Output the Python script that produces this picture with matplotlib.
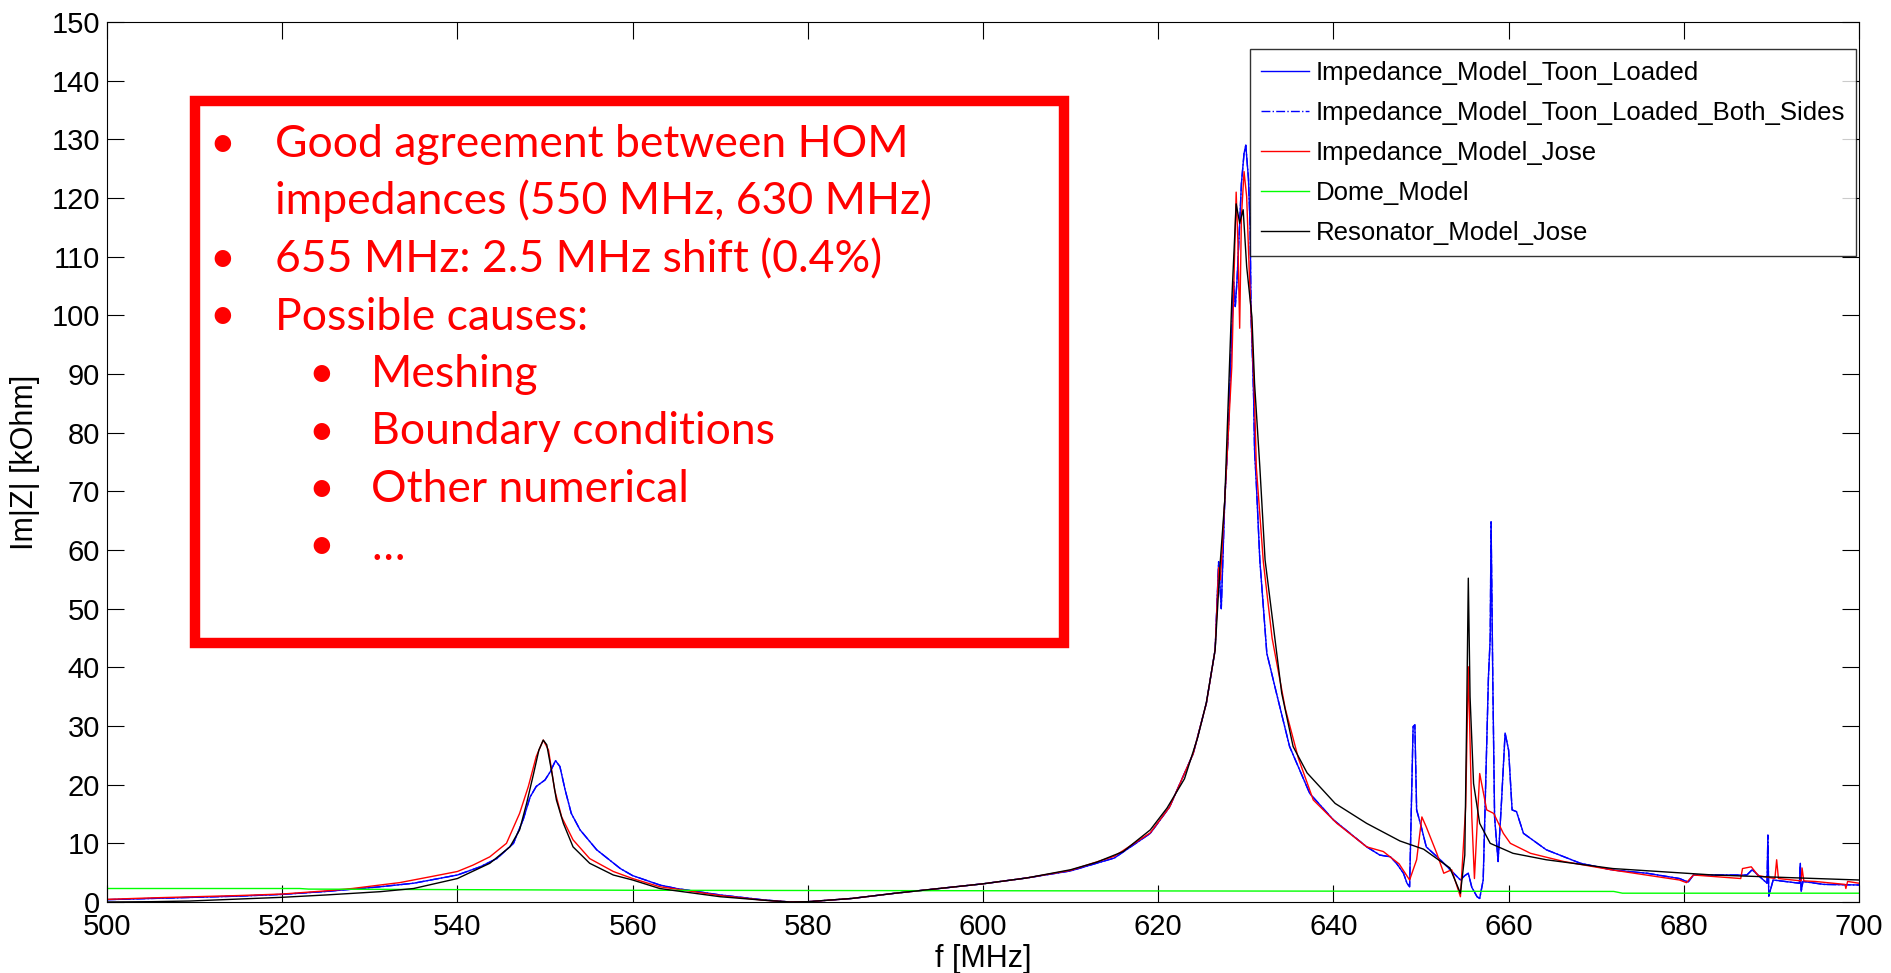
import matplotlib
matplotlib.use("Agg")
import matplotlib.pyplot as plt
from matplotlib.patches import Rectangle

plt.rcParams["font.family"] = ["Liberation Sans", "DejaVu Sans"]

# Impedance_Model_Toon_Loaded (blue)
toon_f = [500, 505, 510, 515, 520, 525, 531.2, 535, 540, 542.6, 544.5, 546.4, 547.5, 548.3,
          549.0, 550.0, 550.6, 551.2, 551.7, 552.3, 553.0, 554.0, 555.9, 558.6, 560, 563.1,
          565, 570, 575, 578, 580, 585, 590, 595, 600, 605, 610, 615, 619.1, 621.3, 624.0,
          625.5, 626.5, 626.9, 627.2, 627.6, 628.0, 628.4, 628.6, 628.8, 629.0, 629.3, 629.5,
          629.8, 630.0, 630.3, 630.5, 630.6, 630.8, 630.9, 631.0, 631.2, 631.6, 632.4, 633.5,
          635.0, 637.3, 640.0, 643.8, 645.3, 646.5, 647.2, 648.0, 648.4, 648.7, 649.1, 649.3,
          649.5, 650.0, 650.6, 652.2, 652.6, 654.5, 655.0, 655.4, 655.8, 656.4, 656.7, 657.1,
          657.7, 657.9, 658.0, 658.2, 658.4, 658.8, 659.2, 659.6, 660.0, 660.4, 660.9, 661.7,
          664.3, 668.2, 671.9, 675.8, 679.5, 680.5, 681.1, 687.2, 687.8, 689.5, 689.6, 689.7,
          690.2, 693.2, 693.3, 693.4, 693.6, 696, 700]
toon_z = [0.4, 0.6, 0.8, 1.0, 1.3, 1.8, 2.6, 3.2, 4.6, 6.0, 7.4, 10.0, 14.0, 17.9,
          19.7, 20.8, 22.2, 24.1, 23.1, 19.1, 15.1, 12.3, 8.9, 5.7, 4.5, 2.9,
          2.3, 1.2, 0.35, 0.0, 0.05, 0.6, 1.5, 2.3, 3.1, 4.1, 5.3, 7.5, 11.7, 16.2, 25.3,
          33.9, 43.0, 58.0, 50.0, 68.5, 79.9, 96.9, 105.7, 101.5, 106.0, 115.7, 122.5,
          127.6, 129.0, 123.3, 115.0, 99.8, 91.2, 85.6, 77.0, 71.4, 58.3, 42.4, 35.6,
          26.5, 18.5, 14.0, 9.4, 8.0, 7.7, 6.6, 4.9, 3.2, 2.6, 29.9, 30.2,
          15.7, 13.0, 9.4, 7.2, 6.6, 3.75, 4.5, 4.9, 2.5, 0.9, 0.6, 3.75,
          38.4, 45.0, 64.8, 37.3, 14.5, 6.9, 17.4, 28.8, 25.9, 15.7, 15.4, 11.7,
          8.9, 6.6, 5.45, 4.9, 4.0, 3.4, 4.6, 4.6, 5.5, 3.2, 11.4, 1.0,
          3.75, 3.2, 6.6, 1.8, 3.5, 3.0, 2.9]

# Impedance_Model_Toon_Loaded_Both_Sides (blue dash-dot) - lies on top of the blue curve
both_f = toon_f
both_z = toon_z

# Impedance_Model_Jose (red)
jose_f = [500, 505, 510, 515, 520, 525, 528, 531.2, 533.4, 536.9, 540, 541.8, 543.7, 545.6,
          547.1, 548.1, 549.0, 549.8, 550.4, 551.1, 551.9, 553.2, 555.1, 557.8, 560, 563.1,
          565, 570, 575, 578, 580, 585, 590, 595, 600, 605, 610, 615, 619.1, 621.3, 624.0,
          625.5, 626.5, 626.9, 627.1, 627.6, 628.4, 628.9, 629.1, 629.3, 629.5, 629.8, 630.1,
          630.4, 630.7, 631.0, 631.2, 632.0, 633.0, 634.5, 636.0, 637.7, 640.4, 643.8, 645.7,
          647.5, 648.7, 649.5, 650.1, 650.6, 651.8, 652.6, 653.5, 654.5, 655.1, 655.4, 655.8,
          656.1, 656.7, 657.5, 658.3, 659.4, 660.2, 662.5, 666.3, 671.9, 679.5, 680.3, 681.1,
          686.5, 686.7, 687.7, 688.5, 690.4, 690.6, 690.8, 693.4, 693.5, 693.7, 695, 698.4,
          698.5, 698.7, 700]
jose_z = [0.45, 0.7, 0.9, 1.1, 1.36, 1.9, 2.3, 2.9, 3.3, 4.3, 5.2, 6.3, 7.7, 10.0,
          15.1, 19.7, 24.8, 27.6, 25.9, 19.1, 14.5, 10.6, 7.4, 5.2, 4.0, 2.6,
          2.2, 1.1, 0.3, 0.0, 0.05, 0.6, 1.5, 2.3, 3.1, 4.1, 5.4, 7.8, 11.8, 16.2, 25.3,
          33.9, 43.0, 57.0, 54.9, 68.5, 91.2, 121.0, 112.4, 97.8, 116.8, 124.5, 120.2,
          107.2, 96.9, 85.6, 74.2, 58.0, 45.0, 33.0, 24.5, 17.4, 13.4, 9.4, 8.6,
          6.5, 3.75, 7.2, 14.5, 12.8, 8.3, 4.9, 5.5, 0.9, 16.2, 40.1, 14.5,
          4.0, 21.9, 15.7, 15.1, 11.7, 10.0, 8.3, 6.9, 5.45, 3.75, 3.3, 4.6,
          4.0, 5.7, 6.0, 4.5, 4.0, 7.2, 4.0, 3.6, 5.8, 3.6, 3.5, 3.0,
          2.3, 3.5, 3.2]

# Dome_Model (green)
dome_f = [500, 522, 523, 560, 610, 672, 673, 700]
dome_z = [2.3, 2.3, 2.2, 2.0, 1.9, 1.8, 1.5, 1.5]

# Resonator_Model_Jose (black)
res_f = [500, 505, 509.5, 515, 520, 525, 531.2, 535, 540, 543.7, 546.0, 547.1, 547.9, 548.7,
         549.3, 549.8, 550.2, 550.8, 551.3, 552.1, 553.2, 555.1, 557.8, 560, 563.1, 565, 570,
         575, 578, 580, 585, 590, 595, 600, 605, 610, 613, 616, 619.1, 621, 623, 624.5,
         625.5, 626.5, 627.1, 627.6, 628.0, 628.4, 628.9, 629.3, 629.7, 630.1, 630.7, 631.0,
         631.6, 632.2, 634.1, 635.4, 637.0, 640.2, 643.8, 647.6, 650.3, 653.3, 654.5, 655.0,
         655.2, 655.4, 655.6, 656.0, 656.7, 657.9, 660.5, 664.3, 671.9, 683.4, 700]
res_z = [0.0, 0.05, 0.17, 0.5, 0.8, 1.2, 1.76, 2.3, 4.0, 6.6, 9.4, 12.3, 16.8, 21.9,
         25.9, 27.6, 26.8, 21.9, 17.4, 13.4, 9.4, 6.6, 4.6, 3.75, 2.3, 1.9, 0.9,
         0.3, 0.0, 0.05, 0.6, 1.5, 2.3, 3.1, 4.1, 5.5, 6.8, 8.6, 12.3, 16.0, 21.0, 28.0,
         34.0, 43.0, 58.3, 68.5, 85.6, 102.6, 119.0, 115.7, 118.0, 108.3, 99.7, 88.4,
         74.2, 58.3, 35.6, 26.5, 22.0, 16.8, 13.4, 10.4, 9.0, 5.8, 1.5, 8.0,
         30.0, 55.2, 35.0, 20.2, 13.4, 10.0, 8.3, 7.2, 5.7, 4.6, 3.75]

x_ticks = list(range(500, 701, 20))
y_ticks = list(range(0, 151, 10))

notes = [
    (0, "Good agreement between HOM"),
    (None, "impedances (550 MHz, 630 MHz)"),
    (0, "655 MHz: 2.5 MHz shift (0.4%)"),
    (0, "Possible causes:"),
    (1, "Meshing"),
    (1, "Boundary conditions"),
    (1, "Other numerical"),
    (1, "\u2026"),
]

W, H = 1891, 973
fig = plt.figure(figsize=(W / 100, H / 100), dpi=100)
ax = fig.add_axes([107 / W, (H - 902) / H, 1752 / W, 880 / H])

lw = 1.0
ax.plot(toon_f, toon_z, color="#0000FF", lw=lw, label="Impedance_Model_Toon_Loaded")
ax.plot(both_f, both_z, color="#0000FF", lw=lw, ls="-.", label="Impedance_Model_Toon_Loaded_Both_Sides")
ax.plot(jose_f, jose_z, color="#FF0000", lw=lw, label="Impedance_Model_Jose")
ax.plot(dome_f, dome_z, color="#00FF00", lw=lw, label="Dome_Model")
ax.plot(res_f, res_z, color="black", lw=lw, label="Resonator_Model_Jose")

ax.set_xlim(500, 700)
ax.set_ylim(0, 150)
ax.set_xticks(x_ticks)
ax.set_yticks(y_ticks)
ax.tick_params(direction="in", length=12, width=0.8, top=True, right=True, labelsize=21)
ax.tick_params(axis="x", pad=8)
ax.tick_params(axis="y", pad=5)
for sp in ax.spines.values():
    sp.set_linewidth(0.8)

ax.set_xlabel("f [MHz]", fontsize=22, labelpad=2)
ax.set_ylabel("Im|Z| [kOhm]", fontsize=22, labelpad=8)

leg = ax.legend(loc="upper right", bbox_to_anchor=(0.9985, 0.969), borderaxespad=0,
                fontsize=18.5, frameon=True, fancybox=False, edgecolor="black",
                handlelength=1.85, handletextpad=0.25, labelspacing=0.62, borderpad=0.45)
leg.get_frame().set_linewidth(1.0)

# red annotation box drawn over the plot
box = Rectangle((195 / W, (H - 643) / H), (1064 - 195) / W, (643 - 101) / H,
                transform=fig.transFigure, facecolor="white", edgecolor="#FF0000",
                lw=7.5, zorder=5)
fig.add_artist(box)

base = 157
step = 57.5
for i, (level, txt) in enumerate(notes):
    yb = (H - (base + i * step)) / H
    indent = 0 if level is None else level
    tx = (275 + 96 * indent) / W
    if level is not None:
        bx = (209 + 99 * level) / W
        fig.text(bx, yb, "\u2022", color="#FF0000", fontsize=32, family="Lato",
                 va="baseline", zorder=6)
    fig.text(tx, yb, txt, color="#FF0000", fontsize=32, family="Lato",
             va="baseline", zorder=6)

fig.savefig("out.png", dpi=100)
